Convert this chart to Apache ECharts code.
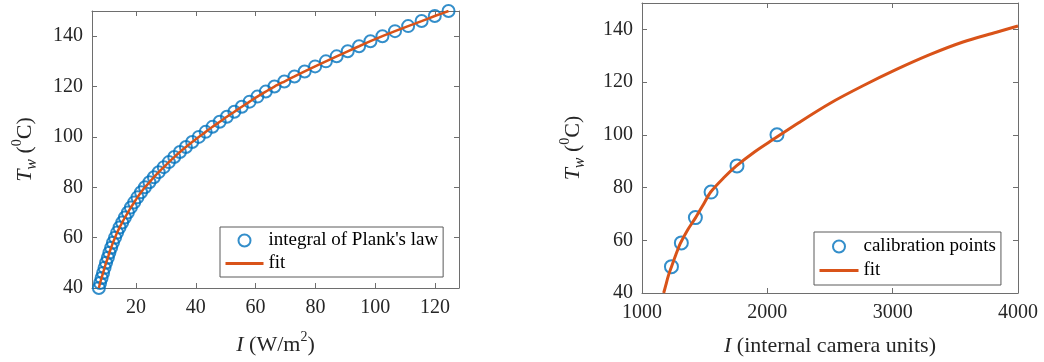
<!DOCTYPE html>
<html>
<head>
<meta charset="utf-8">
<script src="https://cdn.jsdelivr.net/npm/echarts@6/dist/echarts.min.js"></script>
<style>
  html, body { margin: 0; padding: 0; background: #fff; }
  #main { width: 1044px; height: 362px; }
</style>
</head>
<body>
<div id="main"></div>
<script>
// left panel: integral of Planck's law, T every 2 degC
var plankT = [40, 42, 44, 46, 48, 50, 52, 54, 56, 58, 60, 62, 64, 66, 68, 70, 72, 74, 76, 78,
  80, 82, 84, 86, 88, 90, 92, 94, 96, 98, 100, 102, 104, 106, 108, 110, 112, 114, 116, 118,
  120, 122, 124, 126, 128, 130, 132, 134, 136, 138, 140, 142, 144, 146, 148, 150];
var plankI = [7.6, 8.0, 8.5, 9.0, 9.5, 10.0, 10.6, 11.1, 11.7, 12.3, 13.0, 13.7, 14.5, 15.4, 16.3, 17.3, 18.3, 19.4, 20.5, 21.7,
  23.0, 24.5, 26.0, 27.6, 29.3, 31.0, 32.8, 34.7, 36.7, 38.8, 41.0, 43.3, 45.6, 48.0, 50.4, 52.9, 55.4, 58.0, 60.6, 63.4,
  66.3, 69.6, 73.0, 76.4, 79.9, 83.5, 87.1, 90.8, 94.6, 98.4, 102.4, 106.6, 111.0, 115.5, 119.9, 124.5];

// right panel: calibration points and fit curve
var calibI = [1235, 1314, 1426, 1551, 1758, 2077];
var calibT = [50, 59, 68.6, 78.3, 88.2, 100];
var fitI = [1173, 1190, 1210, 1234, 1270, 1306, 1365, 1428, 1490, 1548, 1650, 1753, 1900, 2045, 2250, 2498, 2763, 3030, 3296, 3561, 3828, 4000];
var fitT = [40, 43.0, 46.5, 49.8, 54.5, 58.8, 64.0, 68.6, 73.6, 78.3, 83.6, 88.2, 93.6, 98.2, 104.6, 111.9, 118.6, 124.8, 130.4, 135.2, 138.9, 141.3];

var yTicksLabel = [40, 60, 80, 100, 120, 140];

function zip(xs, ys) {
  return xs.map(function (x, i) { return [x, ys[i]]; });
}

var blue = '#0072BD';
var orange = '#D95319';
var axisCol = '#6e6e6e';
var txtCol = '#262626';
var serif = 'Liberation Serif';

function richName(size) {
  return {
    fontFamily: serif,
    fontSize: size,
    color: txtCol,
    rich: {
      it: { fontFamily: serif, fontStyle: 'italic', fontSize: size, lineHeight: 30, color: txtCol },
      n: { fontFamily: serif, fontSize: size, lineHeight: 30, color: txtCol },
      sub: { fontFamily: serif, fontStyle: 'italic', fontSize: 16, lineHeight: 14, verticalAlign: 'bottom', color: txtCol },
      sup: { fontFamily: serif, fontSize: 14, lineHeight: 14, verticalAlign: 'top', color: txtCol }
    }
  };
}

// main axes (bottom / left) with labels
function mainX(grid, min, max, interval, name, gap) {
  var ax = {
    type: 'value', gridIndex: grid, position: 'bottom', min: min, max: max,
    name: name, nameLocation: 'middle', nameGap: gap, nameTextStyle: richName(22),
    axisLine: { show: true, lineStyle: { color: axisCol, width: 1 } },
    axisTick: { show: true, inside: true, length: 5, lineStyle: { color: axisCol } },
    axisLabel: {
      show: true, margin: 10, fontFamily: serif, fontSize: 20, color: txtCol,
      showMinLabel: false, showMaxLabel: false,
      formatter: function (v) { return String(v); }
    },
    splitLine: { show: false }
  };
  if (interval) {
    ax.interval = interval;
    ax.axisLabel.showMinLabel = true;
    ax.axisLabel.showMaxLabel = true;
  } else {
    ax.splitNumber = 6;
  }
  return ax;
}
function boxX(grid, min, max, interval) {
  var ax = {
    type: 'value', gridIndex: grid, position: 'top', min: min, max: max,
    axisLine: { show: true, lineStyle: { color: axisCol, width: 1 } },
    axisTick: { show: true, inside: true, length: 5, lineStyle: { color: axisCol } },
    axisLabel: { show: false },
    splitLine: { show: false }
  };
  if (interval) ax.interval = interval; else ax.splitNumber = 6;
  return ax;
}
function mainY(grid, name, gap) {
  return {
    type: 'value', gridIndex: grid, position: 'left', min: 40, max: 150, interval: 20,
    name: name, nameLocation: 'middle', nameGap: gap, nameTextStyle: richName(22),
    axisLine: { show: true, lineStyle: { color: axisCol, width: 1 } },
    axisTick: { show: true, inside: true, length: 5, lineStyle: { color: axisCol } },
    axisLabel: {
      margin: 9, fontFamily: serif, fontSize: 20, color: txtCol,
      formatter: function (v) { return yTicksLabel.indexOf(v) >= 0 ? String(v) : ''; }
    },
    splitLine: { show: false }
  };
}
function boxY(grid) {
  return {
    type: 'value', gridIndex: grid, position: 'right', min: 40, max: 150, interval: 20,
    axisLine: { show: true, lineStyle: { color: axisCol, width: 1 } },
    axisTick: { show: true, inside: true, length: 5, lineStyle: { color: axisCol } },
    axisLabel: { show: false },
    splitLine: { show: false }
  };
}

var circleStyle = { color: 'rgba(0,0,0,0)', borderColor: blue, borderWidth: 2 };
var lineLegendItem = { name: 'fit', itemStyle: { opacity: 0 }, lineStyle: { color: orange, width: 3 } };

var myChart = echarts.init(document.getElementById('main'), null, { renderer: 'canvas' });
var option = {
  animation: false,
  backgroundColor: '#fff',
  grid: [
    { left: 92, top: 11, width: 367, height: 277 },
    { left: 642, top: 3, width: 376, height: 291 }
  ],
  xAxis: [
    mainX(0, 5.3, 128, null, '{it|I}{n| (W/m}{sup|2}{n|)}', 42),
    boxX(0, 5.3, 128, null),
    mainX(1, 1000, 4000, 1000, '{it|I}{n| (internal camera units)}', 38),
    boxX(1, 1000, 4000, 1000)
  ],
  yAxis: [
    mainY(0, '{it|T}{sub|w}{n| (}{sup|0}{n|C)}', 52),
    boxY(0),
    mainY(1, '{it|T}{sub|w}{n| (}{sup|0}{n|C)}', 54),
    boxY(1)
  ],
  legend: [
    {
      data: ["integral of Plank's law", lineLegendItem],
      left: 220, top: 227, orient: 'vertical',
      itemWidth: 38, itemHeight: 12, itemGap: 4,
      padding: [4, 5, 4, 4],
      borderColor: '#5a5a5a', borderWidth: 1, backgroundColor: '#fff',
      textStyle: { fontFamily: serif, fontSize: 19, color: '#000' }
    },
    {
      data: ['calibration points', lineLegendItem],
      left: 814, top: 232, orient: 'vertical',
      itemWidth: 39, itemHeight: 12, itemGap: 5,
      padding: [5, 5, 5, 4],
      borderColor: '#5a5a5a', borderWidth: 1, backgroundColor: '#fff',
      textStyle: { fontFamily: serif, fontSize: 19, color: '#000' }
    }
  ],
  series: [
    {
      name: "integral of Plank's law", type: 'scatter', xAxisIndex: 0, yAxisIndex: 0,
      symbol: 'circle', symbolSize: 12, itemStyle: circleStyle, z: 2,
      data: zip(plankI, plankT)
    },
    {
      name: 'fit', type: 'line', xAxisIndex: 0, yAxisIndex: 0,
      symbol: 'none', smooth: 0.3,
      lineStyle: { color: orange, width: 2.5 }, itemStyle: { color: orange }, z: 3,
      data: zip(plankI, plankT)
    },
    {
      name: 'calibration points', type: 'scatter', xAxisIndex: 2, yAxisIndex: 2,
      symbol: 'circle', symbolSize: 13, itemStyle: circleStyle, z: 2,
      data: zip(calibI, calibT)
    },
    {
      name: 'fit', type: 'line', xAxisIndex: 2, yAxisIndex: 2,
      symbol: 'none', smooth: 0.3,
      lineStyle: { color: orange, width: 3 }, itemStyle: { color: orange }, z: 3,
      data: zip(fitI, fitT)
    }
  ]
};
myChart.setOption(option);
</script>
</body>
</html>
